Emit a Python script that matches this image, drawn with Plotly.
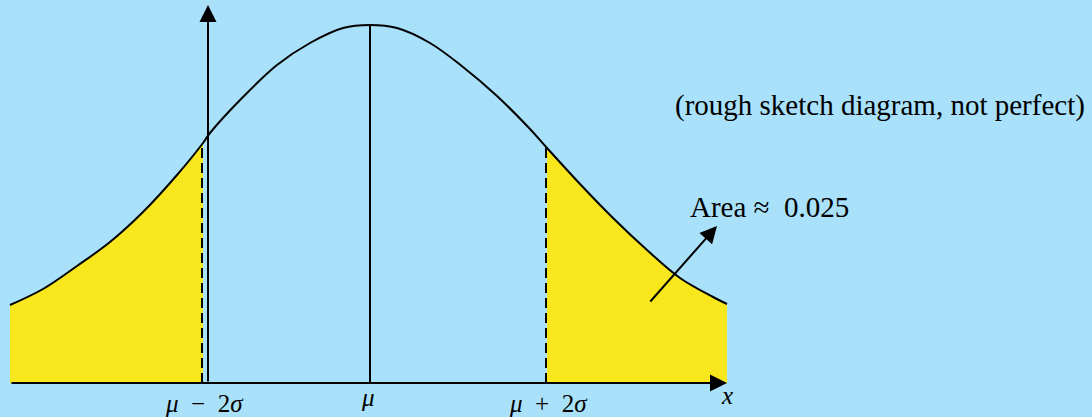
import plotly.graph_objects as go

# Bell curve (x position, height above the x axis)
curve_x = [10, 43, 77, 110, 143, 177, 203, 210, 243, 277, 310, 343, 370, 397, 430, 463, 497, 530, 547, 580, 613, 647, 680, 713, 727]
curve_h = [78, 94, 117, 141, 171, 208, 240, 250, 286, 318, 340, 355, 358, 355, 340, 316, 287, 254, 235, 199, 165, 133, 105, 86, 79]

mu_x = 370
cut_left = 203
cut_right = 547
axis_left = 10
axis_right = 727
yaxis_x = 208
yaxis_top = 378

tick_labels = ["<i>μ</i>\u2002−\u20022<i>σ</i>", "<i>μ</i>", "<i>μ</i>\u2002+\u20022<i>σ</i>"]
tick_pos = [204, 368, 548]
tick_y = [-20, -14, -20]

note_text = "(rough sketch diagram, not perfect)"
area_text = "Area ≈  0.025"

BG = "#a9e0fa"
YEL = "#f8e71c"
FONT = "Liberation Serif"

h_at = dict(zip(curve_x, curve_h))
left_x = [x for x in curve_x if x <= cut_left]
left_h = [h_at[x] for x in left_x]
right_x = [x for x in curve_x if x >= cut_right]
right_h = [h_at[x] for x in right_x]

fig = go.Figure()
for tx, th in [(left_x, left_h), (right_x, right_h)]:
    fig.add_trace(go.Scatter(x=tx, y=th, mode="lines", line=dict(color=YEL, width=0, shape="spline"),
                             fill="tozeroy", fillcolor=YEL, hoverinfo="skip"))

fig.add_trace(go.Scatter(x=curve_x, y=curve_h, mode="lines",
                         line=dict(color="black", width=2, shape="spline"), hoverinfo="skip"))

for cx, ch in [(cut_left - 1, h_at[cut_left]), (cut_right - 1, h_at[cut_right])]:
    fig.add_trace(go.Scatter(x=[cx, cx], y=[0, ch], mode="lines",
                             line=dict(color="black", width=2, dash="10px,5px"), hoverinfo="skip"))

fig.add_trace(go.Scatter(x=[mu_x, mu_x], y=[0, h_at[mu_x]], mode="lines",
                         line=dict(color="black", width=2), hoverinfo="skip"))

ann = []
ann.append(dict(x=yaxis_x, y=yaxis_top, ax=yaxis_x, ay=0, axref="x", ayref="y", xref="x", yref="y",
                showarrow=True, arrowhead=2, arrowsize=1.7, arrowwidth=2, arrowcolor="black", text=""))
ann.append(dict(x=axis_right, y=0, ax=axis_left, ay=0, axref="x", ayref="y", xref="x", yref="y",
                showarrow=True, arrowhead=2, arrowsize=1.7, arrowwidth=2, arrowcolor="black", text=""))
ann.append(dict(x=717, y=157, ax=649, ay=80, axref="x", ayref="y", xref="x", yref="y",
                showarrow=True, arrowhead=2, arrowsize=1.7, arrowwidth=2, arrowcolor="black", text=""))

for t, p, ty in zip(tick_labels, tick_pos, tick_y):
    ann.append(dict(x=p, y=ty, text=t, showarrow=False, xref="x", yref="y",
                    font=dict(family=FONT, size=25, color="black")))
ann.append(dict(x=727, y=-12, text="<i>x</i>", showarrow=False, xref="x", yref="y",
                font=dict(family=FONT, size=25, color="black")))
ann.append(dict(x=673, y=383 - 105, text=note_text, showarrow=False, xref="x", yref="y", xanchor="left",
                font=dict(family=FONT, size=29, color="black")))
ann.append(dict(x=688, y=383 - 207, text=area_text, showarrow=False, xref="x", yref="y", xanchor="left",
                font=dict(family=FONT, size=29, color="black")))

fig.update_layout(
    width=1092, height=417, autosize=False,
    margin=dict(l=0, r=0, t=0, b=0),
    paper_bgcolor=BG, plot_bgcolor=BG,
    showlegend=False,
    xaxis=dict(range=[0, 1092], visible=False, fixedrange=True),
    yaxis=dict(range=[-34, 383], visible=False, fixedrange=True),
    annotations=ann,
)

fig.write_html("out.html", config={"displayModeBar": False},
               post_script="document.body.style.margin='0px';document.body.style.background='" + BG + "';")
